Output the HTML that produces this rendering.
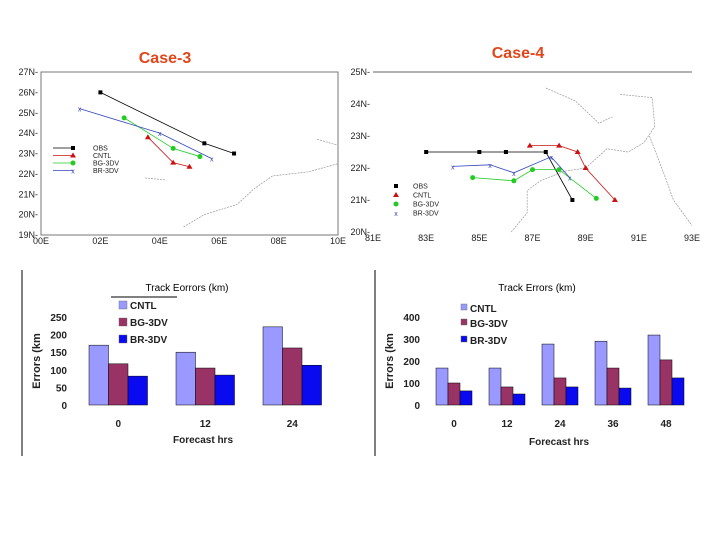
<!DOCTYPE html>
<html><head><meta charset="utf-8">
<style>
html,body{margin:0;padding:0;background:#fff;}
svg{display:block;font-family:"Liberation Sans",Arial,sans-serif;}
</style></head>
<body>
<svg id="root" width="720" height="540" viewBox="0 0 720 540" xmlns="http://www.w3.org/2000/svg">
<text x="165" y="63" text-anchor="middle" font-size="16" font-weight="bold" fill="#e0461a">Case-3</text>
<text x="518" y="58" text-anchor="middle" font-size="16" font-weight="bold" fill="#e0461a">Case-4</text>
<g id="map1"></g>
<g id="map2"></g>
<g id="bar1"></g>
<g id="bar2"></g>
</svg>
<script>
// ---- Track data (lon, lat) ----
const m1Obs = [[2.0,26.0],[5.5,23.5],[6.5,23.0]];
const m1Cntl = [[3.6,23.8],[4.45,22.55],[5.0,22.35]];
const m1Bg = [[2.8,24.75],[4.45,23.25],[5.35,22.85]];
const m1Br = [[1.3,25.2],[4.0,24.0],[5.75,22.75]];
const m2Obs = [[83.0,22.5],[85.0,22.5],[86.0,22.5],[87.5,22.5],[88.5,21.0]];
const m2Cntl = [[86.9,22.7],[88.0,22.7],[88.7,22.5],[89.0,22.0],[90.1,21.0]];
const m2Bg = [[84.75,21.7],[86.3,21.6],[87.0,21.95],[88.0,21.95],[89.4,21.05]];
const m2Br = [[84.0,22.05],[85.4,22.1],[86.3,21.85],[87.7,22.35],[88.4,21.7]];
const m1LatTicks = ["19N","20N","21N","22N","23N","24N","25N","26N","27N"];
const m1LonTicks = ["00E","02E","04E","06E","08E","10E"];
const m2LatTicks = ["20N","21N","22N","23N","24N","25N"];
const m2LonTicks = ["81E","83E","85E","87E","89E","91E","93E"];
// ---- Bar data ----
const c3Cats = ["0","12","24"];
const c3Cntl = [170,150,222];
const c3Bg = [117,105,162];
const c3Br = [82,85,113];
const c3Ticks = [0,50,100,150,200,250];
const c4Cats = ["0","12","24","36","48"];
const c4Cntl = [168,168,277,290,318];
const c4Bg = [100,82,123,168,205];
const c4Br = [64,50,82,77,123];
const c4Ticks = [0,100,200,300,400];

const NS="http://www.w3.org/2000/svg";
function mk(parent,tag,attrs,txt){const e=document.createElementNS(NS,tag);for(const k in attrs)e.setAttribute(k,attrs[k]);if(txt!==undefined)e.textContent=txt;parent.appendChild(e);return e;}

const seriesColors={obs:"#000",cntl:"#cc1111",bg:"#22cc22",br:"#3344bb"};

function drawMarker(g,kind,x,y){
  let e;
  if(kind==="obs"){e=mk(g,"rect",{x:x-2,y:y-2,width:4,height:4,fill:"#000"});}
  else if(kind==="cntl"){e=mk(g,"polygon",{points:`${x},${y-3} ${x-3},${y+2} ${x+3},${y+2}`,fill:"#cc1111"});}
  else if(kind==="bg"){e=mk(g,"circle",{cx:x,cy:y,r:2.5,fill:"#22cc22"});}
  else {e=mk(g,"text",{x:x,y:y+3,"text-anchor":"middle","font-size":"7",fill:"#3344bb"},"x");}
  
  
}

function drawMap(g,cfg){
  const sx=lon=>cfg.x0+(lon-cfg.lon0)/(cfg.lon1-cfg.lon0)*(cfg.x1-cfg.x0);
  const sy=lat=>cfg.y0+(cfg.lat1-lat)/(cfg.lat1-cfg.lat0)*(cfg.y1-cfg.y0);
  if(cfg.box){const b=mk(g,"rect",{x:cfg.x0,y:cfg.y0,width:cfg.x1-cfg.x0,height:cfg.y1-cfg.y0,fill:"none",stroke:"#777","stroke-width":1});
    }
  else{const t=mk(g,"line",{x1:cfg.x0,y1:cfg.y0,x2:cfg.x1,y2:cfg.y0,stroke:"#666"});
    }
  cfg.latTicks.forEach((l,i)=>{const lat=cfg.lat0+i;const t=mk(g,"text",{x:cfg.x0-3,y:sy(lat)+3,"text-anchor":"end","font-size":"9",fill:"#222"},l+"-");
    });
  cfg.lonTicks.forEach((l,i)=>{const lon=cfg.lon0+i*cfg.lonStep;const t=mk(g,"text",{x:sx(lon),y:cfg.y1+9,"text-anchor":"middle","font-size":"9",fill:"#222"},l);
    });
  // coastline sketch
  cfg.coast.forEach(c=>{const p=mk(g,"polyline",{points:c.map(q=>sx(q[0])+","+sy(q[1])).join(" "),fill:"none",stroke:"#999","stroke-width":0.7,"stroke-dasharray":"2,1"});
    });
  const sets=[["obs",cfg.obs],["cntl",cfg.cntl],["bg",cfg.bg],["br",cfg.br]];
  sets.forEach(([k,arr])=>{
    const pl=mk(g,"polyline",{points:arr.map(q=>sx(q[0])+","+sy(q[1])).join(" "),fill:"none",stroke:seriesColors[k],"stroke-width":0.8});
    
    arr.forEach(q=>drawMarker(g,k,sx(q[0]),sy(q[1])));
  });
  const names=["OBS","CNTL","BG-3DV","BR-3DV"];
  sets.forEach(([k],i)=>{const y=cfg.legY+i*cfg.legDy;
    if(cfg.legLine){const l=mk(g,"line",{x1:cfg.legX-20,y1:y,x2:cfg.legX,y2:y,stroke:seriesColors[k],"stroke-width":0.8});}
    drawMarker(g,k,cfg.legX,y);
    const t=mk(g,"text",{x:cfg.legX+cfg.legTx,y:y+2.5,"font-size":"7",fill:"#222"},names[i]);
    });
}

drawMap(document.getElementById("map1"),{x0:41,x1:338,y0:72,y1:235,lon0:0,lon1:10,lonStep:2,lat0:19,lat1:27,box:true,
  latTicks:m1LatTicks,lonTicks:m1LonTicks,obs:m1Obs,cntl:m1Cntl,bg:m1Bg,br:m1Br,legX:73,legY:148,legDy:7.5,legLine:true,legTx:20,
  coast:[[[4.8,19.4],[5.5,20.0],[6.6,20.5],[7.2,21.3],[7.8,21.9],[9.0,22.1],[10,22.5]],[[9.3,23.7],[10,23.4]],[[3.5,21.8],[4.2,21.7]]]});
drawMap(document.getElementById("map2"),{x0:373,x1:692,y0:72,y1:232,lon0:81,lon1:93,lonStep:2,lat0:20,lat1:25,box:false,
  latTicks:m2LatTicks,lonTicks:m2LonTicks,obs:m2Obs,cntl:m2Cntl,bg:m2Bg,br:m2Br,legX:396,legY:186,legDy:9,legLine:false,legTx:17,
  coast:[[[86.2,20.0],[86.8,20.6],[86.8,21.3],[87.3,21.6],[88.2,21.9],[89.0,22.0],[89.8,22.6],[90.6,22.5],[91.2,22.8],[91.6,23.3],[91.5,24.2],[90.3,24.3]],
         [[91.4,23.0],[92.0,21.7],[92.3,21.0],[93,20.2]],[[87.5,24.5],[88.6,24.1],[89.5,23.4],[90.0,23.6]]]});

function drawBars(g,cfg){
  const sy=v=>cfg.y0-v*cfg.k;
  const vl=mk(g,"line",{x1:cfg.vx,y1:270,x2:cfg.vx,y2:456,stroke:"#000","stroke-width":1});
  
  const tt=mk(g,"text",{x:cfg.tx,y:291,"text-anchor":"middle","font-size":"10",fill:"#000"},cfg.title);
  
  if(cfg.uline){const u=mk(g,"line",{x1:111,y1:297,x2:177,y2:297,stroke:"#000"});}
  cfg.ticks.forEach(v=>{const t=mk(g,"text",{x:cfg.tickX,y:sy(v)+4,"text-anchor":"end","font-size":"10","font-weight":"bold",fill:"#222"},String(v));
    });
  const yt=mk(g,"text",{x:0,y:0,"text-anchor":"middle","font-size":"11","font-weight":"bold",fill:"#222",transform:`translate(${cfg.ytx},${(cfg.y0+sy(cfg.ticks[cfg.ticks.length-1]))/2}) rotate(-90)`},"Errors (km");
  
  const series=[[cfg.cntl,"#9999ff","cntl"],[cfg.bg,"#993366","bg-3dv"],[cfg.br,"#0a0af0","br-3dv"]];
  cfg.cats.forEach((c,i)=>{
    const gx=cfg.gx0+i*cfg.gstep;
    series.forEach(([arr,col,nm],j)=>{
      const r=mk(g,"rect",{x:gx+j*cfg.bw,y:sy(arr[i]),width:cfg.bw,height:arr[i]*cfg.k,fill:col,stroke:"#000","stroke-width":0.5});
      
    });
    const t=mk(g,"text",{x:gx+1.5*cfg.bw,y:427,"text-anchor":"middle","font-size":"10","font-weight":"bold",fill:"#222"},c);
    
  });
  const xt=mk(g,"text",{x:cfg.xtx,y:cfg.xty,"text-anchor":"middle","font-size":"10","font-weight":"bold",fill:"#222"},"Forecast hrs");
  
  const ln=["CNTL","BG-3DV","BR-3DV"];
  series.forEach(([a,col],j)=>{const y=cfg.legY[j];
    const s=mk(g,"rect",{x:cfg.legX,y:y-4,width:cfg.legS,height:cfg.legS,fill:col,stroke:"#666","stroke-width":0.4});
    
    const t=mk(g,"text",{x:cfg.legX+cfg.legS+3,y:y+4,"font-size":"10","font-weight":"bold",fill:"#222"},ln[j]);
    });
}
drawBars(document.getElementById("bar1"),{vx:22,tx:187,title:"Track Eorrors (km)",uline:true,y0:405,k:0.352,ticks:c3Ticks,tickX:67,ytx:40,
  cats:c3Cats,cntl:c3Cntl,bg:c3Bg,br:c3Br,gx0:89,gstep:87,bw:19.5,xtx:203,xty:443,legX:119,legS:8,legY:[305,322,339]});
drawBars(document.getElementById("bar2"),{vx:375,tx:537,title:"Track Errors (km)",uline:false,y0:405,k:0.22,ticks:c4Ticks,tickX:420,ytx:393,
  cats:c4Cats,cntl:c4Cntl,bg:c4Bg,br:c4Br,gx0:436,gstep:53,bw:12,xtx:559,xty:445,legX:461,legS:6,legY:[308,323,340]});
</script>
</body></html>
